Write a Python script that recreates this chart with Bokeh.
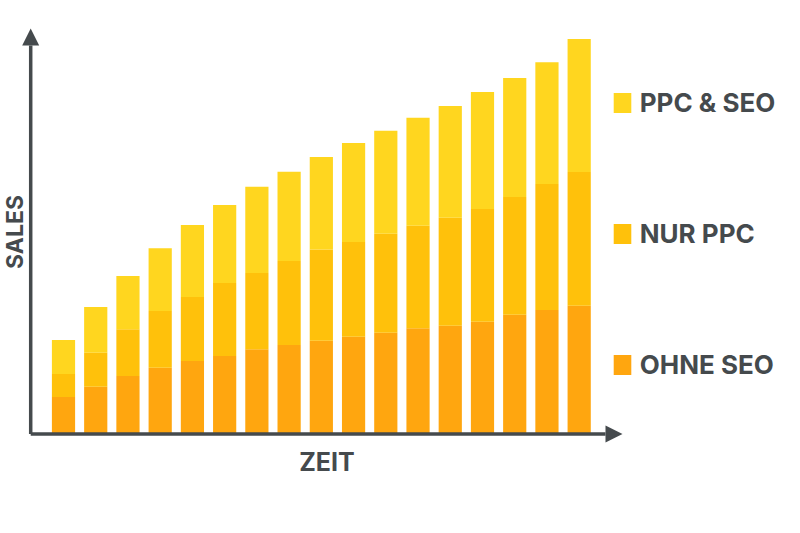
from bokeh.embed import file_html
from bokeh.resources import INLINE
from bokeh.plotting import figure
from bokeh.models import ColumnDataSource, Range1d, Legend, LegendItem, Arrow, NormalHead, Label

periods = list(range(1, 18))
ohne_seo = [37, 47.3, 58, 66.3, 73, 78, 84.7, 89, 93.3, 97.3, 101.3, 105.7, 108.3, 112.3, 119.3, 124, 128.3]
nur_ppc = [23, 34, 46.7, 56.7, 64, 73, 76.3, 84, 91.2, 94.7, 99, 102.6, 108, 112.7, 117.7, 126, 133.7]
ppc_seo = [34, 45.7, 53.3, 62.7, 72, 78, 86.3, 89.3, 92.5, 99, 103, 108, 111.7, 117, 119, 121.7, 133]
labels = ["OHNE SEO", "NUR PPC", "PPC & SEO"]
colors = ["#FFA60F", "#FFC10B", "#FFD61F"]
INK = "#454A4D"
FONT = "Inter"

W, H = 784, 517
SPACING = 32.23
x0 = 1 - 63 / SPACING
y0 = -(H - 433.5)
x_axis_left = 1 - (63 - 30.2) / SPACING
x_axis_right = 1 + (622 - 63) / SPACING
y_axis_top = 433.5 - 28

source = ColumnDataSource(dict(period=periods, ohne=ohne_seo, nur=nur_ppc, ppc=ppc_seo))

p = figure(width=W, height=H, output_backend="svg", toolbar_location=None,
           x_range=Range1d(x0, x0 + W / SPACING), y_range=Range1d(y0, y0 + H),
           x_axis_location=None, y_axis_location=None, min_border=0,
           outline_line_color=None, background_fill_color=None, border_fill_color=None)
p.grid.visible = False

bars = p.vbar_stack(["ohne", "nur", "ppc"], x="period", width=0.72, color=colors, source=source, line_width=0)

head = lambda: NormalHead(size=17, fill_color=INK, line_color=INK, line_width=0)
p.add_layout(Arrow(end=head(), x_start=x_axis_left, y_start=0, x_end=x_axis_right, y_end=0, line_color=INK, line_width=3.5))
p.add_layout(Arrow(end=head(), x_start=x_axis_left, y_start=0, x_end=x_axis_left, y_end=y_axis_top, line_color=INK, line_width=3.5))

title_style = dict(text_font=FONT, text_font_style="bold", text_color=INK,
                   text_align="center", text_baseline="middle", x_units="screen", y_units="screen")
p.add_layout(Label(x=326.5, y=H - 461, text="ZEIT", text_font_size="25px", **title_style))
p.add_layout(Label(x=14, y=H - 231.5, text="SALES", angle=90, angle_units="deg", text_font_size="23px", **title_style))

legend = Legend(items=[LegendItem(label=l, renderers=[r]) for l, r in reversed(list(zip(labels, bars)))],
                location=(610.75, H - 379.5), orientation="vertical", padding=0, margin=0, spacing=100,
                glyph_width=22, glyph_height=25, label_height=25, label_standoff=7,
                label_text_font=FONT, label_text_font_style="bold", label_text_font_size="26px",
                label_text_color=INK, border_line_color=None, background_fill_color=None)
p.add_layout(legend)

open("out.html", "w").write(file_html(p, INLINE))
